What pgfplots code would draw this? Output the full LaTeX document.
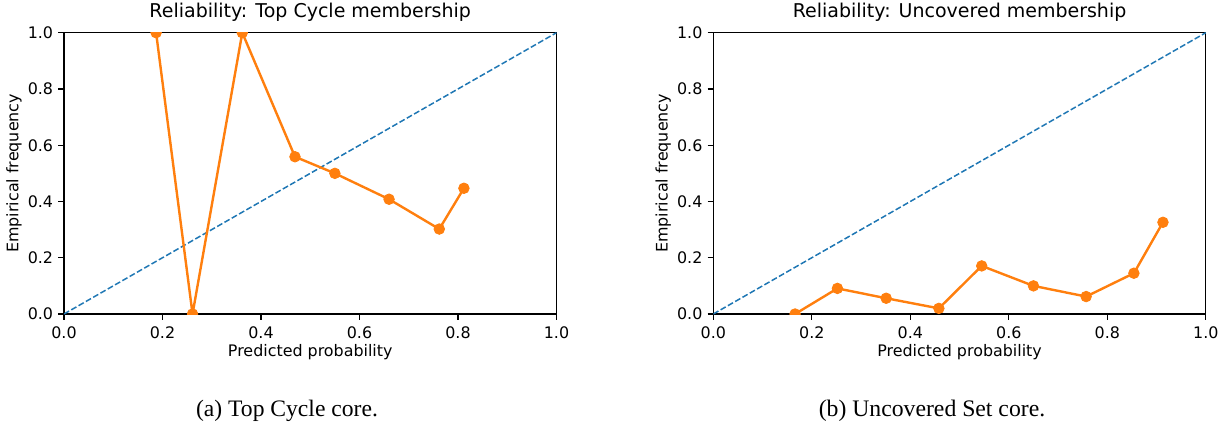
\documentclass[border=0pt]{standalone}
\usepackage{fontspec}
\setmainfont{DejaVu Sans}
\newfontfamily\capfont{Liberation Serif}
\usepackage{pgfplots}
\pgfplotsset{compat=1.18}
\definecolor{mplblue}{HTML}{1F77B4}
\definecolor{mplorange}{HTML}{FF7F0E}
\pgfplotsset{
  rel/.style={
    scale only axis, width=492.5pt, height=281.3pt,
    xmin=0, xmax=1, ymin=0, ymax=1,
    xtick={0,0.2,0.4,0.6,0.8,1}, ytick={0,0.2,0.4,0.6,0.8,1},
    tick align=outside, tick pos=left,
    major tick length=5.6pt,
    every tick/.style={black, line width=1.2pt},
    axis line style={line width=1.2pt, black},
    /pgf/number format/fixed, /pgf/number format/fixed zerofill,
    /pgf/number format/precision=1, /pgf/number format/assume math mode=true,
    tick label style={font=\fontsize{15.9}{19}\selectfont},
    xticklabel style={anchor=base, inner sep=0pt, yshift=-18.7pt},
    yticklabel style={anchor=east, inner sep=0pt, xshift=-5.1pt},
    label style={font=\fontsize{15.9}{19}\selectfont},
    xlabel style={at={(axis description cs:0.5,-0.1518)}, anchor=base},
    ylabel style={at={(axis description cs:-0.0928,0.5)}, anchor=base, rotate=0},
    title style={at={(axis description cs:0.5,1.0334)}, anchor=base, font=\fontsize{19}{23}\selectfont},
    xlabel={Predicted probability}, ylabel={Empirical frequency},
    clip marker paths=true,
  },
  diag/.style={mplblue, line width=1.5pt, dash pattern=on 5.9pt off 2.5pt},
  cal/.style={mplorange, line width=2.4pt, mark=*, mark size=5.3pt, mark options={solid, line width=0.8pt, fill=mplorange}},
}
\begin{document}
\begin{tikzpicture}
\path[use as bounding box] (0,0) rectangle (1226pt,421pt);
\begin{axis}[rel, at={(64pt,107pt)}, anchor=south west, title={Reliability: Top Cycle membership}]
\addplot[diag] coordinates {(0,0) (1,1)};
\addplot[cal] coordinates {(0.187,1.0) (0.261,0.0) (0.362,1.0) (0.469,0.559) (0.550,0.500) (0.660,0.408) (0.762,0.302) (0.812,0.447)};
\end{axis}
\begin{axis}[rel, at={(713.3pt,107pt)}, anchor=south west, title={Reliability: Uncovered membership}]
\addplot[diag] coordinates {(0,0) (1,1)};
\addplot[cal] coordinates {(0.166,0.0) (0.252,0.091) (0.351,0.056) (0.458,0.020) (0.545,0.171) (0.650,0.100) (0.757,0.062) (0.854,0.145) (0.913,0.326)};
\end{axis}
\node[anchor=base, font=\capfont\fontsize{23.6}{28}\selectfont] at (287pt,5pt) {(a) Top Cycle core.};
\node[anchor=base, font=\capfont\fontsize{23.7}{28}\selectfont] at (932pt,5pt) {(b) Uncovered Set core.};
\end{tikzpicture}
\end{document}
